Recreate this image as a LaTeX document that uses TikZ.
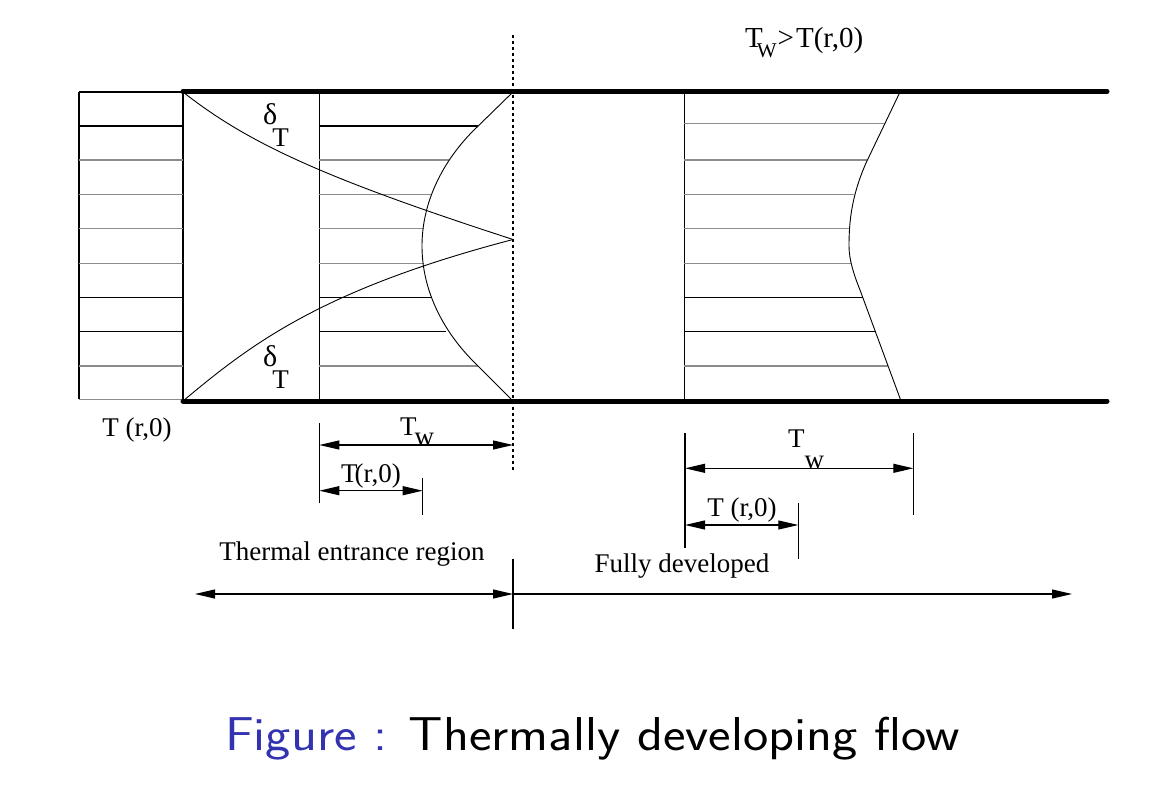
\documentclass[tikz,border=0pt]{standalone}
\usepackage{fontspec}
\setmainfont{Liberation Serif}
\usetikzlibrary{arrows.meta}
\definecolor{structblue}{RGB}{51,51,178}
\definecolor{lgray}{gray}{0.55}
\begin{document}
\begin{tikzpicture}[x=1pt,y=-1pt,
  wall/.style={line width=5pt,line cap=round},
  thin/.style={line width=1.2pt},
  curve/.style={line width=0.9pt},
  tip/.tip={Triangle[length=20pt,width=9pt]},
  dimboth/.style={line width=1.1pt,tip-tip},
  dimend/.style={line width=1.1pt,-tip},
  tickline/.style={line width=1.1pt},
  lbl/.style={inner sep=0pt,font=\fontsize{27}{29}\selectfont},
  biglbl/.style={inner sep=0pt,font=\fontsize{29}{31}\selectfont},
  deltalbl/.style={inner sep=0pt,font=\fontsize{30}{32}\selectfont},
]
\useasboundingbox[fill=white] (0,0) rectangle (1161,791);

% ---------------- inlet profile
\draw[thin] (79,92) -- (79,399.3);
\draw[thin] (183,92) -- (183,401);
\foreach \y/\c in {92/black,126/black,160/lgray,194.3/lgray,228.7/lgray,263.3/lgray,297.3/black,331.7/black,366/lgray,399.3/lgray}
  \draw[thin,color=\c] (79,\y) -- (183,\y);

% ---------------- entrance region profile
\draw[thin] (319.3,92) -- (319.3,401);
\foreach \y/\e/\c in {126/478/black,160/449/lgray,194.3/432/lgray,228.7/424/lgray,263.3/424/lgray,297.3/432/black,331.7/446/black,366/478/lgray}
  \draw[thin,color=\c] (319.3,\y) -- (\e,\y);
\draw[curve] (513,92) -- (472,132) .. controls (440,165) and (422,205) .. (422,246)
  .. controls (422,287) and (440,327) .. (472,360) -- (513,401);

% thermal boundary layers
\draw[curve] (183,92) .. controls (250,145) and (330,180) .. (513,239.5);
\draw[curve] (183,401) .. controls (250,345) and (320,290) .. (513,239.5);

\node[deltalbl,anchor=base west] (d1) at (263,125) {δ\kern-5pt\raisebox{-22pt}{\fontsize{27}{29}\selectfont T}};
\node[deltalbl,anchor=base west] (d2) at (263,366) {δ\kern-5pt\raisebox{-22pt}{\fontsize{27}{29}\selectfont T}};

% ---------------- fully developed profile
\draw[thin] (684.3,92) -- (684.3,401);
\foreach \y/\e/\c in {123.3/885/lgray,160/866.7/lgray,194.3/854/lgray,228.7/849/lgray,263.3/851/lgray,297.3/863/black,331.7/876/black,366/888.3/lgray}
  \draw[thin,color=\c] (684.3,\y) -- (\e,\y);
\draw[curve] (900,92) -- (866,163) .. controls (852,195) and (849,220) .. (849,246)
  .. controls (849,260) and (854,275) .. (860,290) -- (901,401);

% ---------------- walls
\draw[wall] (183,91.5) -- (1107,91.5);
\draw[wall] (183,401) -- (1107,401);

% dotted separation line
\draw[line width=1.3pt,dash pattern=on 3pt off 3pt] (513,35) -- (513,470);

% ---------------- labels
\node[biglbl,anchor=base west] (twtop) at (745,48) {T\kern-6pt\raisebox{-10pt}{\fontsize{21}{21}\selectfont W}\kern1pt>\kern2pt T(r,0)};
\node[lbl,anchor=base] (tin) at (137,436) {T (r,0)};

% ---------------- entrance dimensions
\coordinate (a0) at (319.3,445);
\coordinate (a1) at (513,445);
\coordinate (b0) at (319.3,490.7);
\coordinate (b1) at (422.7,490.7);
\draw[tickline] (319.3,423) -- (319.3,503);
\draw[tickline] (422.7,478) -- (422.7,515);
\draw[dimboth] (a0) -- (a1);
\draw[dimboth] (b0) -- (b1);
\node[lbl,anchor=base west] (tw1) at (400,435) {T\kern-2pt\raisebox{-10pt}{w}};
\node[lbl,anchor=base] (tr1) at (371,482) {T\kern-3pt(r,0)};

% ---------------- fully developed dimensions
\coordinate (c0) at (685,468.3);
\coordinate (c1) at (913.3,468.3);
\coordinate (e0) at (685,525);
\coordinate (e1) at (798.3,525);
\draw[tickline] (685,433) -- (685,548);
\draw[tickline] (913.3,433) -- (913.3,515);
\draw[tickline] (798.3,502.7) -- (798.3,559.3);
\draw[dimboth] (c0) -- (c1);
\draw[dimboth] (e0) -- (e1);
\node[lbl,anchor=base west] (tw2) at (788,447) {T\raisebox{-21pt}{w}};
\node[lbl,anchor=base] (tr2) at (742,516) {T (r,0)};

% ---------------- regions
\coordinate (r0) at (195,594);
\coordinate (r1) at (513,594);
\coordinate (r2) at (1072,594);
\draw[tickline] (513,559) -- (513,629);
\draw[dimboth] (r0) -- (r1);
\draw[dimend] (r1) -- (r2);
\node[lbl,anchor=base] (ter) at (352,560) {Thermal entrance region};
\node[lbl,anchor=base] (fd) at (682,572) {Fully developed};

% ---------------- caption
\node[inner sep=0pt,anchor=base west,font=\sffamily\fontsize{47.5}{50}\selectfont] (cap) at (225,750) {\scalebox{1.13}[1]{\textcolor{structblue}{Figure :}\kern19pt Thermally developing flow}};
\end{tikzpicture}
\end{document}
